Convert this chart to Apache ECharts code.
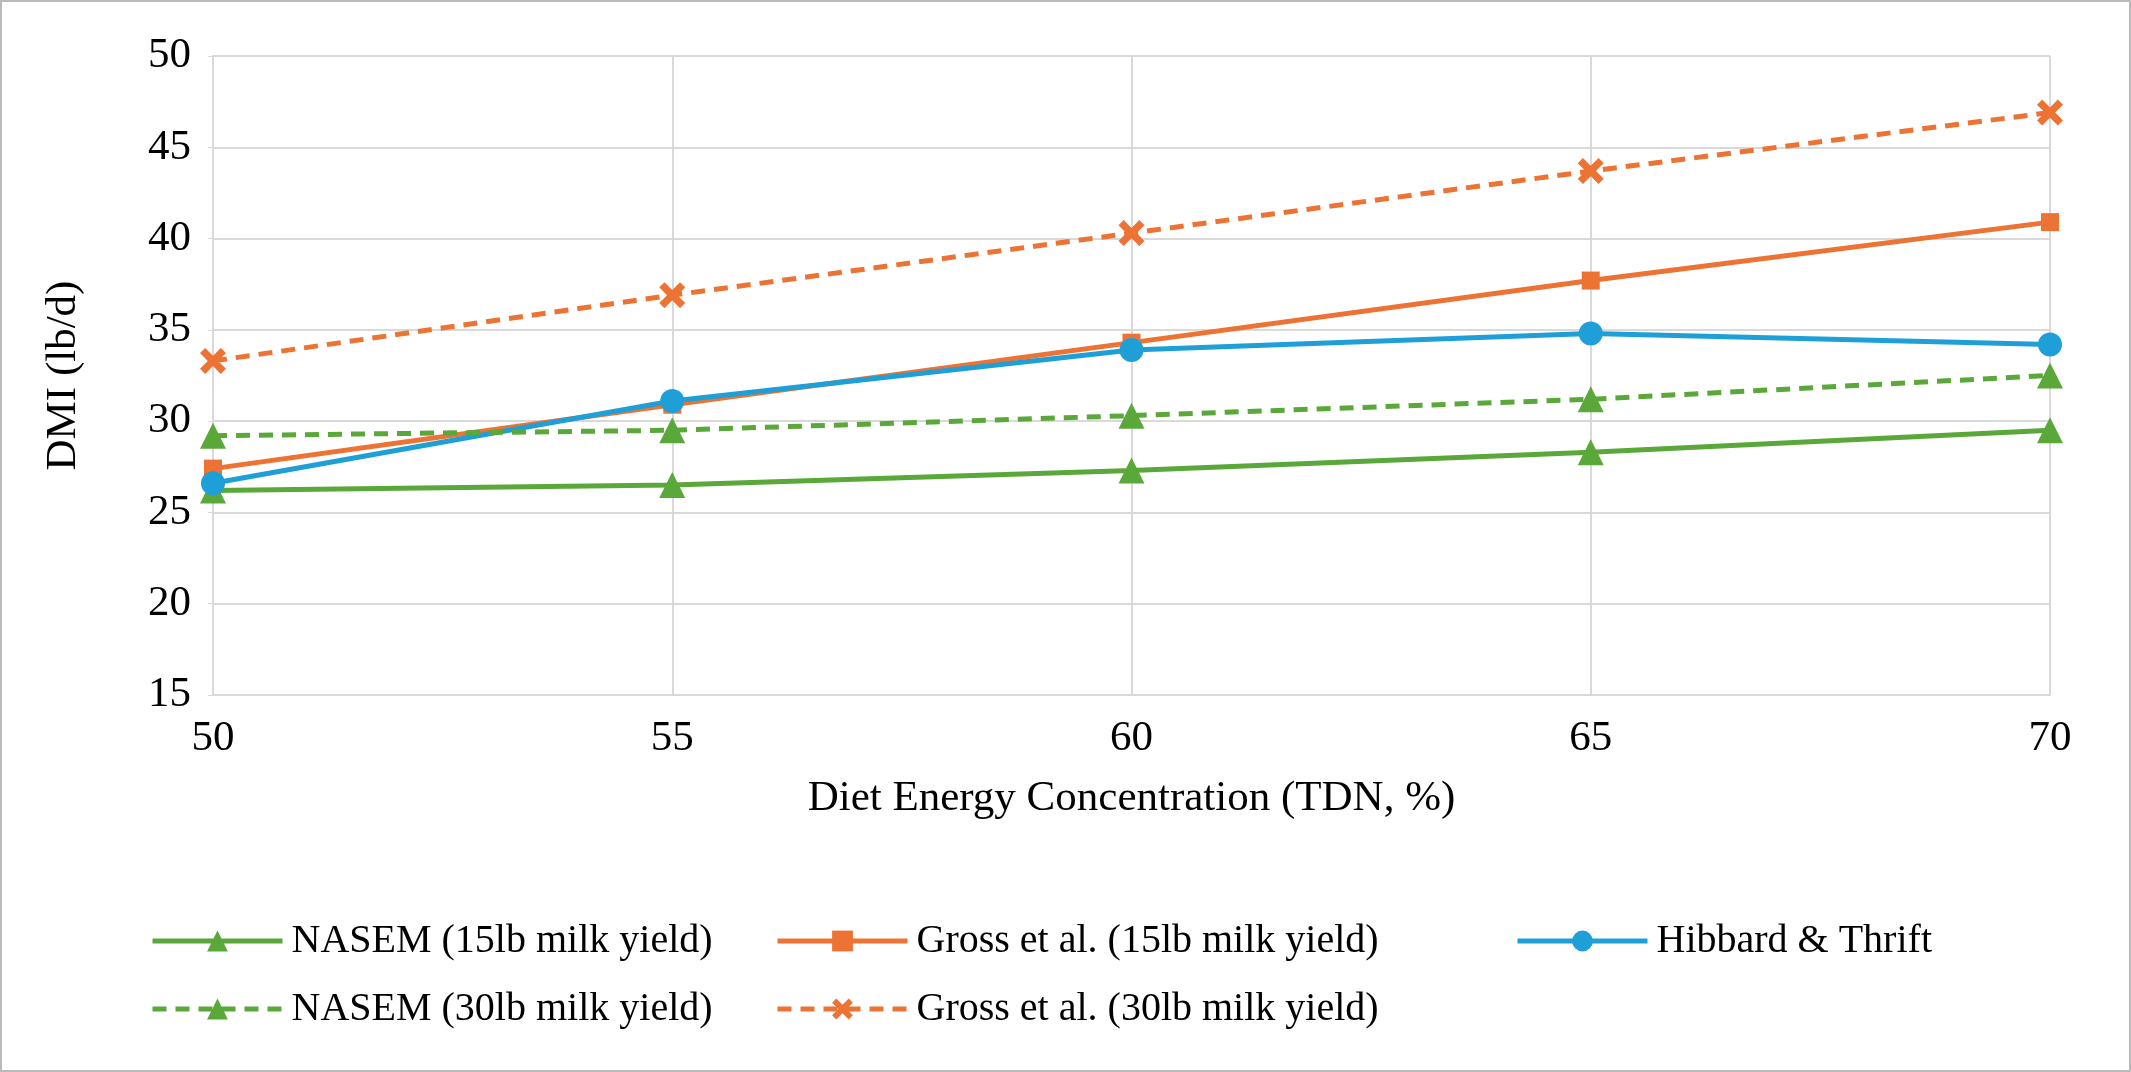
<!DOCTYPE html><html><head><meta charset="utf-8"><script src="https://cdn.jsdelivr.net/npm/echarts@6/dist/echarts.min.js"></script>
<style>html,body{margin:0;background:#fff}#c{width:2131px;height:1072px;box-sizing:border-box;border:2px solid #bbb}</style></head><body><div id="c"></div><script>
const categories=[50,55,60,65,70];
const nasem15=[26.2,26.5,27.3,28.3,29.5];
const gross15=[27.4,30.9,34.3,37.7,40.9];
const hibbard=[26.6,31.1,33.9,34.8,34.2];
const nasem30=[29.2,29.5,30.3,31.2,32.5];
const gross30=[33.3,36.9,40.3,43.7,46.9];
const names=['NASEM (15lb milk yield)','Gross et al. (15lb milk yield)','Hibbard & Thrift','NASEM (30lb milk yield)','Gross et al. (30lb milk yield)'];
const G='#5aa83a',O='#ec7333',B='#1f9fd8';
const X='path://M2,0 L5,3 L8,0 L10,2 L7,5 L10,8 L8,10 L5,7 L2,10 L0,8 L3,5 L0,2 Z';
const font='Liberation Serif';
const mk=(name,data,color,sym,size,dash)=>({name,type:'line',data:data.map((v,i)=>[categories[i],v]),color,symbol:sym,symbolSize:size,lineStyle:{width:5,type:dash?[14,9]:'solid'},itemStyle:{color},emphasis:{disabled:true}});
const lg=(n,l,t)=>({data:[n],left:l,top:t,itemWidth:130,itemHeight:26,itemGap:0,lineStyle:{width:5},textStyle:{fontFamily:font,fontSize:40,color:'#000',padding:[0,0,0,4]}});
const chart=echarts.init(document.getElementById('c'));
chart.setOption({animation:false,
grid:{left:211,right:79,top:54,bottom:375},
xAxis:{type:'value',min:50,max:70,interval:5,name:'Diet Energy Concentration (TDN, %)',nameLocation:'middle',nameGap:82,nameTextStyle:{fontFamily:font,fontSize:43,color:'#000'},axisLabel:{fontFamily:font,fontSize:43,color:'#000',margin:22},axisLine:{lineStyle:{color:'#d9d9d9',width:2}},axisTick:{show:false},splitLine:{show:true,lineStyle:{color:'#d9d9d9',width:2}}},
yAxis:{type:'value',min:15,max:50,interval:5,name:'DMI (lb/d)',nameLocation:'middle',nameGap:128,nameTextStyle:{fontFamily:font,fontSize:43,color:'#000'},axisLabel:{fontFamily:font,fontSize:43,color:'#000',margin:22},axisLine:{show:true,lineStyle:{color:'#d9d9d9',width:2}},splitLine:{lineStyle:{color:'#d9d9d9',width:2}}},
legend:[lg(names[0],143,914),lg(names[1],768,914),lg(names[2],1508,914),lg(names[3],143,982),lg(names[4],768,982)],
series:[mk(names[0],nasem15,G,'triangle',26,false),mk(names[1],gross15,O,'rect',18,false),mk(names[2],hibbard,B,'circle',24,false),mk(names[3],nasem30,G,'triangle',26,true),mk(names[4],gross30,O,X,26,true)]});
</script></body></html>
